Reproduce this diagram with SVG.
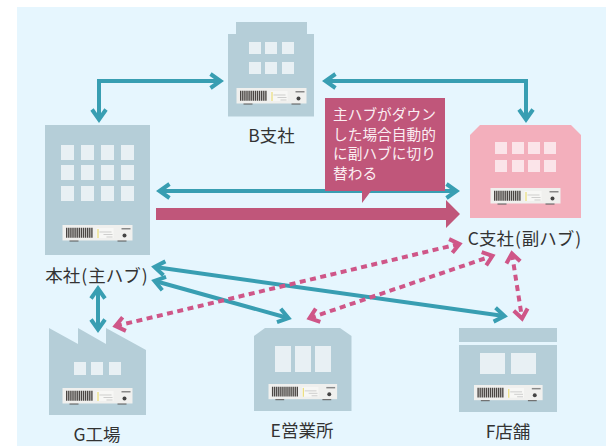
<svg xmlns="http://www.w3.org/2000/svg" width="606" height="446" viewBox="0 0 606 446">
<style>
.b{fill:#b5ced8}.p{fill:#f3afbc}
.w{fill:#e8f0f4}.wp{fill:#fbe4e9}
.t{font-family:"Noto Sans CJK JP","Noto Sans",sans-serif;font-size:17.5px;fill:#333;text-anchor:middle}
.c{font-family:"Noto Sans CJK JP","Noto Sans",sans-serif;font-size:14.7px;fill:#fbeef2}
.a{fill:none;stroke:#389eb2;stroke-width:4;marker-start:url(#at);marker-end:url(#at)}
.d{fill:none;stroke:#cf5688;stroke-width:4;stroke-dasharray:6 4.5;marker-start:url(#ad);marker-end:url(#ad)}
</style>
<defs>
<marker id="at" markerUnits="userSpaceOnUse" markerWidth="24" markerHeight="24" refX="13" refY="12" orient="auto-start-reverse" overflow="visible"><path d="M3.500 5L13.500 12L3.500 19" fill="none" stroke="#389eb2" stroke-width="4"/></marker>
<marker id="ad" markerUnits="userSpaceOnUse" markerWidth="24" markerHeight="24" refX="13" refY="12" orient="auto-start-reverse" overflow="visible"><path d="M4.500 5L13.500 12L4.500 19" fill="none" stroke="#cf5688" stroke-width="4"/></marker>
<g id="dev">
<rect x="7" y="15" width="9" height="1.500" fill="#555"/><rect x="55" y="15" width="9" height="1.500" fill="#555"/>
<rect x="0" y="0" width="70" height="15.500" fill="#f0f0ee"/>
<path d="M3.500 7.700H30.500" stroke="#4a4643" stroke-width="10" stroke-dasharray="1.400 .7" fill="none"/>
<rect x="34" y="3" width="17" height="10" fill="#f7f7f5"/>
<rect x="35" y="4" width="1" height="9" fill="#e8d860"/>
<path d="M37 7H49M41 9.500H50M44 12H50" stroke="#bbb" stroke-width=".7" fill="none"/>
<rect x="59" y="3" width="9" height="1.500" fill="#888"/>
<circle cx="62" cy="10.500" r="2" fill="#444"/>
</g>
</defs>
<rect x="17" y="7" width="589" height="439" fill="#e6f6fe"/>

<g id="connectors">
<path class="a" d="M99 119V81H220"/>
<path class="a" d="M326 81H526V119"/>
<path class="a" d="M160 191H456"/>
<path class="a" d="M155 267L504 316"/>
<path class="a" d="M155 281L288 318"/>
<path class="a" d="M98 289V329"/>
<path class="d" d="M116 326L459 244"/>
<path class="d" d="M310 318L492 256"/>
<path class="d" d="M512 254L522 318"/>
<polygon points="156,208 446,208 446,200 460,214 446,228 446,220 156,220" fill="#c0567a"/>
</g>

<g id="node-b">
<path class="b" d="M236 22H307V34H314V116.500H228V34H236Z"/>
<g class="w"><rect x="249" y="42" width="12" height="12"/><rect x="265" y="42" width="12" height="12"/><rect x="282" y="42" width="12" height="12"/><rect x="249" y="62" width="12" height="12"/><rect x="265" y="62" width="12" height="12"/><rect x="282" y="62" width="12" height="12"/></g>
<use href="#dev" x="236.500" y="88"/>
<text class="t" x="271.500" y="141.500">B支社</text>
</g>

<g id="node-hq">
<rect class="b" x="45" y="125" width="105" height="130"/>
<g class="w"><rect x="61" y="145" width="13" height="15"/><rect x="81" y="145" width="13" height="15"/><rect x="101" y="145" width="13" height="15"/><rect x="121" y="145" width="13" height="15"/><rect x="61" y="165" width="13" height="15"/><rect x="81" y="165" width="13" height="15"/><rect x="101" y="165" width="13" height="15"/><rect x="121" y="165" width="13" height="15"/><rect x="61" y="186" width="13" height="15"/><rect x="81" y="186" width="13" height="15"/><rect x="101" y="186" width="13" height="15"/><rect x="121" y="186" width="13" height="15"/></g>
<use href="#dev" x="62.500" y="225"/>
<text class="t" x="96.500" y="281.500">本社<tspan dx="1">(</tspan><tspan dx="1">主ハブ</tspan><tspan dx="1">)</tspan></text>
</g>

<g id="node-c">
<polygon class="p" points="470,135 480,125 571,125 581,135 581,218 470,218"/>
<g class="wp"><rect x="495" y="142" width="12" height="12"/><rect x="512" y="142" width="12" height="12"/><rect x="528" y="142" width="12" height="12"/><rect x="544" y="142" width="12" height="12"/><rect x="495" y="160" width="12" height="12"/><rect x="512" y="160" width="12" height="12"/><rect x="528" y="160" width="12" height="12"/><rect x="544" y="160" width="12" height="12"/></g>
<use href="#dev" x="490.500" y="188"/>
<text class="t" x="524.500" y="244.500">C支社<tspan dx="1">(</tspan><tspan dx="1">副ハブ</tspan><tspan dx="1">)</tspan></text>
</g>

<g id="node-g">
<polygon class="b" points="49,328 78,344 78,328 106,344 106,328 146,350 146,415 49,415"/>
<g class="w"><rect x="74" y="362" width="12" height="13"/><rect x="91" y="362" width="12" height="13"/><rect x="109" y="362" width="12" height="13"/></g>
<use href="#dev" x="62.500" y="388"/>
<text class="t" x="97" y="440.500">G工場</text>
</g>

<g id="node-e">
<polygon class="b" points="254,336 265,328 340,328 351.500,336 351.500,411 254,411"/>
<g class="w"><rect x="275" y="346" width="16" height="26"/><rect x="295" y="346" width="16" height="26"/><rect x="315" y="346" width="16" height="26"/></g>
<use href="#dev" transform="translate(268.500 384) scale(.98)"/>
<text class="t" x="302" y="436.500">E営業所</text>
</g>

<g id="node-f">
<rect class="b" x="459" y="328" width="98" height="14"/>
<rect class="b" x="459" y="345" width="98" height="67"/>
<g class="w"><rect x="480" y="353" width="25" height="21"/><rect x="511" y="353" width="25" height="21"/></g>
<use href="#dev" transform="translate(474 385) scale(.98)"/>
<text class="t" x="508" y="437.500">F店舗</text>
</g>

<g id="callout">
<polygon points="325,98 445,98 445,191 371,191 362,203 362,191 325,191" fill="#c0567a"/>
<text class="c" x="333" y="120">主ハブがダウン</text>
<text class="c" x="333" y="139.500">した場合自動的</text>
<text class="c" x="333" y="159">に副ハブに切り</text>
<text class="c" x="333" y="178.500">替わる</text>
</g>
</svg>
